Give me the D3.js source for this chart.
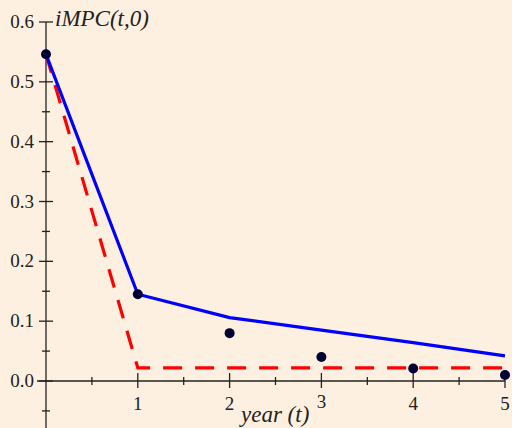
<!DOCTYPE html>
<html>
<head>
<meta charset="utf-8">
<script src="https://cdn.jsdelivr.net/npm/d3@7"></script>
<style>
  html, body { margin: 0; padding: 0; background: #fdf0e0; }
  svg { display: block; }
  text { font-family: "Liberation Serif", "DejaVu Serif", serif; fill: #222; }
</style>
</head>
<body>
<svg id="chart"></svg>
<script>
// data
const years = [0, 1, 2, 3, 4, 5];
const observed = [0.546, 0.145, 0.080, 0.040, 0.021, 0.010];   // dots
const modelBlue = [0.546, 0.145, 0.106, 0.085, 0.064, 0.042];  // solid line
const redYears = [0, 1, 5];
const modelRed = [0.546, 0.022, 0.022];                        // dashed line
const xTicks = [1, 2, 3, 4, 5];
const yTicks = [0.0, 0.1, 0.2, 0.3, 0.4, 0.5, 0.6];

const width = 512, height = 428;
const svg = d3.select('#chart')
  .attr('width', width)
  .attr('height', height);

svg.append('rect')
  .attr('width', width).attr('height', height)
  .attr('fill', '#fdf0e0');

const x = d3.scaleLinear().domain([0, 5]).range([46, 505]);
const y = d3.scaleLinear().domain([0, 0.6]).range([381, 22]);

const axisColor = '#222';

// y axis line, runs a bit below zero
svg.append('line')
  .attr('x1', x(0)).attr('x2', x(0))
  .attr('y1', y(0.6)).attr('y2', height)
  .attr('stroke', axisColor).attr('stroke-width', 1.3);

// x axis line
svg.append('line')
  .attr('x1', x(0) - 9).attr('x2', x(5))
  .attr('y1', y(0)).attr('y2', y(0))
  .attr('stroke', axisColor).attr('stroke-width', 1.3);

// y ticks, major and minor (cross the axis)
const yMinor = d3.range(-0.05, 0.6, 0.1);
svg.append('g').selectAll('line')
  .data(yTicks)
  .enter()
  .append('line')
    .attr('x1', x(0) - 7).attr('x2', x(0) + 7)
    .attr('y1', d => y(d)).attr('y2', d => y(d))
    .attr('stroke', axisColor).attr('stroke-width', 1.3);
svg.append('g').selectAll('line')
  .data(yMinor)
  .enter()
  .append('line')
    .attr('x1', x(0) - 4).attr('x2', x(0) + 4)
    .attr('y1', d => y(d)).attr('y2', d => y(d))
    .attr('stroke', axisColor).attr('stroke-width', 1.3);

svg.append('g').selectAll('text')
  .data(yTicks)
  .enter()
  .append('text')
    .attr('x', x(0) - 12)
    .attr('y', d => y(d) + 6)
    .attr('text-anchor', 'end')
    .attr('font-size', 19)
    .text(d => d.toFixed(1));

// x ticks
const xMinor = d3.range(0.5, 5, 1);
svg.append('g').selectAll('line')
  .data(xTicks)
  .enter()
  .append('line')
    .attr('x1', d => x(d)).attr('x2', d => x(d))
    .attr('y1', y(0) - 8).attr('y2', y(0) + 7)
    .attr('stroke', axisColor).attr('stroke-width', 1.3);
svg.append('g').selectAll('line')
  .data(xMinor)
  .enter()
  .append('line')
    .attr('x1', d => x(d)).attr('x2', d => x(d))
    .attr('y1', y(0) - 4).attr('y2', y(0) + 4)
    .attr('stroke', axisColor).attr('stroke-width', 1.3);

svg.append('g').selectAll('text')
  .data(xTicks)
  .enter()
  .append('text')
    .attr('x', d => x(d))
    .attr('y', (d, i) => i === 2 ? 408 : 410)
    .attr('text-anchor', 'middle')
    .attr('font-size', 19)
    .text(d => d);

// axis titles
svg.append('text')
  .attr('x', 55).attr('y', 26)
  .attr('font-size', 23)
  .attr('font-style', 'italic')
  .text('iMPC(t,0)');

svg.append('text')
  .attr('x', 241).attr('y', 422)
  .attr('font-size', 23)
  .attr('font-style', 'italic')
  .text('year (t)');

// lines
const line = d3.line()
  .x(d => x(d[0]))
  .y(d => y(d[1]));

svg.append('path')
  .datum(redYears.map((t, i) => [t, modelRed[i]]))
  .attr('d', line)
  .attr('fill', 'none')
  .attr('stroke', '#ff0000')
  .attr('stroke-width', 3.2)
  .attr('stroke-dasharray', '19,13');

svg.append('path')
  .datum(years.map((t, i) => [t, modelBlue[i]]))
  .attr('d', line)
  .attr('fill', 'none')
  .attr('stroke', '#0000ff')
  .attr('stroke-width', 3.2);

// dots
svg.append('g').selectAll('circle')
  .data(years.map((t, i) => [t, observed[i]]))
  .enter()
  .append('circle')
    .attr('cx', d => x(d[0]))
    .attr('cy', d => y(d[1]))
    .attr('r', 5)
    .attr('fill', '#000033');
</script>
</body>
</html>
